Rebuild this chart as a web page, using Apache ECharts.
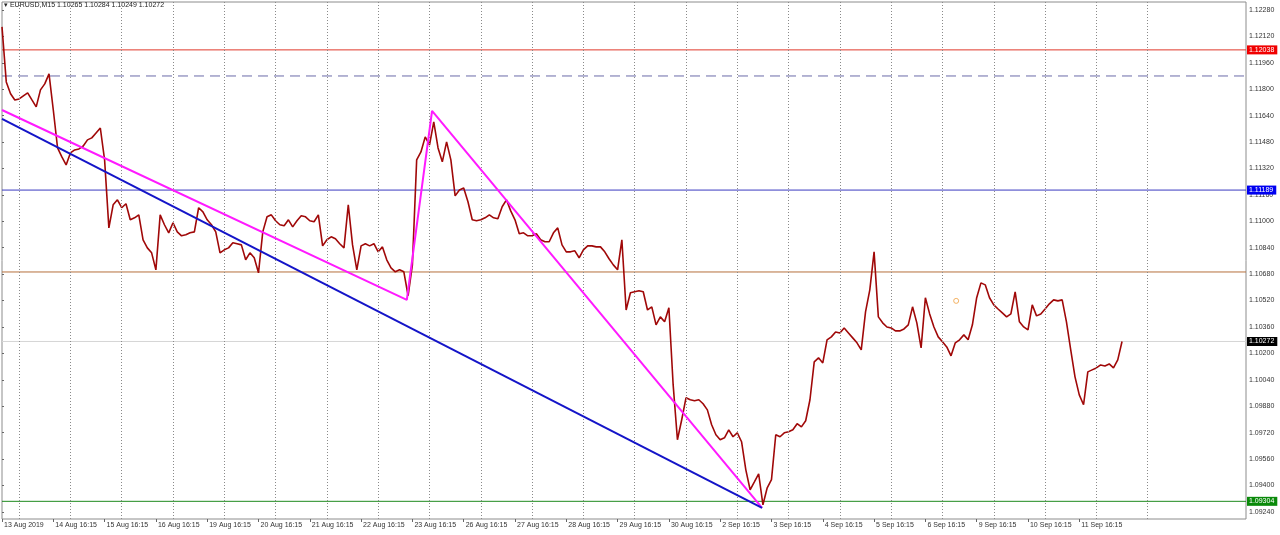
<!DOCTYPE html>
<html>
<head>
<meta charset="utf-8">
<script src="https://cdn.jsdelivr.net/npm/echarts@6/dist/echarts.min.js"></script>
<style>
html, body { margin: 0; padding: 0; background: #fff; }
#chart { width: 1280px; height: 535px; }
</style>
</head>
<body>
<div id="chart"></div>
<script>
// EURUSD M15, sampled every 2 hours (12 samples per trading day)
var closes = [
  1.12177, 1.11844, 1.11772, 1.11735, 1.11741, 1.11760, 1.11778, 1.11735, 1.11693, 1.11796,
  1.11832, 1.11893, 1.11674, 1.11444, 1.11390, 1.11341, 1.11414, 1.11432, 1.11438, 1.11456,
  1.11493, 1.11505, 1.11535, 1.11565, 1.11372, 1.10960, 1.11100, 1.11130, 1.11082, 1.11106,
  1.11009, 1.11021, 1.11039, 1.10888, 1.10839, 1.10809, 1.10706, 1.11039, 1.10979, 1.10930,
  1.10991, 1.10936, 1.10912, 1.10918, 1.10930, 1.10936, 1.11082, 1.11057, 1.11009, 1.10979,
  1.10936, 1.10809, 1.10827, 1.10839, 1.10870, 1.10864, 1.10857, 1.10767, 1.10809, 1.10779,
  1.10688, 1.10936, 1.11027, 1.11039, 1.11003, 1.10979, 1.10973, 1.11009, 1.10966, 1.11003,
  1.11033, 1.11027, 1.11003, 1.10997, 1.11039, 1.10851, 1.10888, 1.10906, 1.10894, 1.10864,
  1.10839, 1.11100, 1.10857, 1.10706, 1.10851, 1.10864, 1.10851, 1.10864, 1.10815, 1.10845,
  1.10767, 1.10718, 1.10694, 1.10706, 1.10694, 1.10549, 1.10736, 1.11372, 1.11420, 1.11511,
  1.11462, 1.11602, 1.11444, 1.11360, 1.11481, 1.11372, 1.11154, 1.11190, 1.11202, 1.11118,
  1.11009, 1.11003, 1.11009, 1.11021, 1.11039, 1.11021, 1.11015, 1.11088, 1.11130, 1.11063,
  1.11009, 1.10924, 1.10930, 1.10912, 1.10912, 1.10924, 1.10888, 1.10876, 1.10876, 1.10930,
  1.10960, 1.10857, 1.10815, 1.10815, 1.10821, 1.10779, 1.10827, 1.10851, 1.10851, 1.10845,
  1.10845, 1.10815, 1.10773, 1.10736, 1.10706, 1.10888, 1.10463, 1.10567, 1.10573, 1.10579,
  1.10573, 1.10463, 1.10482, 1.10373, 1.10421, 1.10391, 1.10476, 1.10009, 1.09677, 1.09798,
  1.09931, 1.09919, 1.09913, 1.09919, 1.09895, 1.09858, 1.09768, 1.09707, 1.09677, 1.09689,
  1.09737, 1.09695, 1.09719, 1.09665, 1.09495, 1.09374, 1.09422, 1.09471, 1.09283, 1.09386,
  1.09435, 1.09707, 1.09695, 1.09719, 1.09725, 1.09737, 1.09774, 1.09755, 1.09792, 1.09919,
  1.10149, 1.10173, 1.10142, 1.10282, 1.10300, 1.10330, 1.10324, 1.10354, 1.10324, 1.10294,
  1.10264, 1.10221, 1.10451, 1.10585, 1.10815, 1.10421, 1.10385, 1.10360, 1.10354, 1.10336,
  1.10336, 1.10348, 1.10373, 1.10482, 1.10385, 1.10233, 1.10537, 1.10439, 1.10360, 1.10300,
  1.10270, 1.10239, 1.10185, 1.10264, 1.10282, 1.10312, 1.10282, 1.10373, 1.10537, 1.10627,
  1.10615, 1.10537, 1.10494, 1.10469, 1.10445, 1.10421, 1.10439, 1.10573, 1.10391, 1.10360,
  1.10342, 1.10494, 1.10427, 1.10439, 1.10469, 1.10500, 1.10524, 1.10518, 1.10524, 1.10391,
  1.10221, 1.10058, 1.09949, 1.09889, 1.10088, 1.10100, 1.10112, 1.10130, 1.10124, 1.10136,
  1.10112, 1.10161, 1.10272
];
var dayLabels = [
  '13 Aug 2019', '14 Aug 16:15', '15 Aug 16:15', '16 Aug 16:15', '19 Aug 16:15', '20 Aug 16:15',
  '21 Aug 16:15', '22 Aug 16:15', '23 Aug 16:15', '26 Aug 16:15', '27 Aug 16:15', '28 Aug 16:15',
  '29 Aug 16:15', '30 Aug 16:15', '2 Sep 16:15', '3 Sep 16:15', '4 Sep 16:15', '5 Sep 16:15',
  '6 Sep 16:15', '9 Sep 16:15', '10 Sep 16:15', '11 Sep 16:15'
];
var priceTicks = [
  1.09240, 1.09400, 1.09560, 1.09720, 1.09880, 1.10040, 1.10200, 1.10360, 1.10520, 1.10680,
  1.10840, 1.11000, 1.11160, 1.11320, 1.11480, 1.11640, 1.11800, 1.11960, 1.12120, 1.12280
];
var header = ['EURUSD,M15', '1.10265', '1.10284', '1.10249', '1.10272'];
var redLevel = 1.12038;
var dashLevel = 1.11880;
var blueLevel = 1.11189;
var brownLevel = 1.10693;
var lastPrice = 1.10272;
var greenLevel = 1.09304;
// trend lines: [sample index, price]
var pinkTrend = [[0, 1.11674], [94.7, 1.10524], [100.6, 1.11669], [177.8, 1.09265]];
var blueTrend = [[0, 1.11620], [177.8, 1.09265]];
var arrowMark = [[223.2, 1.10518]];

var perDay = 12;
var totalSlots = 291;

var linePts = closes.map(function (v, i) { return [i, v]; });
var labelIdx = dayLabels.map(function (d, k) { return k * perDay; });

var vGrid = [];
for (var k = 0; k <= 22; k++) vGrid.push({ xAxis: k * perDay + 4 });

function level(price, color, type, box) {
  return {
    type: 'line', data: [[0, price], [totalSlots, price]], showSymbol: false, silent: true, z: 1,
    lineStyle: { color: color, width: 1, type: type },
    endLabel: box ? {
      show: true, distance: 1, formatter: price.toFixed(5),
      backgroundColor: box, color: '#fff', fontSize: 7, fontFamily: 'Liberation Sans',
      padding: [1, 3, 1, 2]
    } : { show: false }
  };
}

var chart = echarts.init(document.getElementById('chart'));
chart.setOption({
  animation: false,
  backgroundColor: '#fff',
  grid: { left: 2, right: 34, top: 2, bottom: 16, show: true, borderColor: '#8c8c8c', borderWidth: 1 },
  graphic: [{
    type: 'text', left: 4, top: 2,
    style: {
      text: '\u25BE ' + header[0] + ' ' + header.slice(1).join(' '),
      fontSize: 7, fontFamily: 'Liberation Sans', fill: '#222'
    }
  }],
  xAxis: {
    type: 'value', min: 0, max: totalSlots,
    axisLine: { show: false },
    axisTick: { show: true, length: 3, customValues: labelIdx, lineStyle: { color: '#666' } },
    splitLine: { show: false },
    axisLabel: {
      customValues: labelIdx, align: 'left', margin: 3, padding: [0, 0, 0, 2],
      fontSize: 7, fontFamily: 'Liberation Sans', color: '#333',
      formatter: function (v) { return dayLabels[Math.round(v / perDay)] || ''; }
    }
  },
  yAxis: {
    type: 'value', position: 'right', min: 1.09197, max: 1.12328, scale: true,
    axisLine: { show: false },
    axisTick: { show: true, length: 2, customValues: priceTicks, lineStyle: { color: '#666' } },
    splitLine: { show: false },
    axisLabel: {
      customValues: priceTicks, margin: 3, fontSize: 7, fontFamily: 'Liberation Sans', color: '#333',
      formatter: function (v) { return v.toFixed(5); }
    }
  },
  series: [
    {
      type: 'line', data: [], silent: true,
      markLine: {
        silent: true, symbol: 'none', animation: false,
        label: { show: false },
        lineStyle: { color: '#8a8a8a', type: [1, 2], width: 1 },
        data: vGrid
      }
    },
    level(redLevel, '#e0392b', 'solid', '#f00000'),
    level(dashLevel, '#6b6ba8', [10, 6], null),
    level(blueLevel, '#3a3ac0', 'solid', '#0000f0'),
    level(brownLevel, '#b5703c', 'solid', null),
    level(lastPrice, '#d6d6d6', 'solid', '#000000'),
    level(greenLevel, '#1f8a1f', 'solid', '#0a8a0a'),
    {
      type: 'line', data: linePts, showSymbol: false, silent: true, z: 3,
      lineStyle: { color: '#a00808', width: 1.6 }
    },
    {
      type: 'line', data: pinkTrend, showSymbol: false, silent: true, z: 5,
      lineStyle: { color: '#ff1aff', width: 2 }
    },
    {
      type: 'line', data: blueTrend, showSymbol: false, silent: true, z: 5,
      lineStyle: { color: '#1414c8', width: 2 }
    },
    {
      type: 'scatter', data: arrowMark, symbol: 'circle', symbolSize: 5, silent: true, z: 5,
      itemStyle: { color: 'transparent', borderColor: '#f0a040', borderWidth: 1 }
    }
  ]
});
</script>
</body>
</html>
